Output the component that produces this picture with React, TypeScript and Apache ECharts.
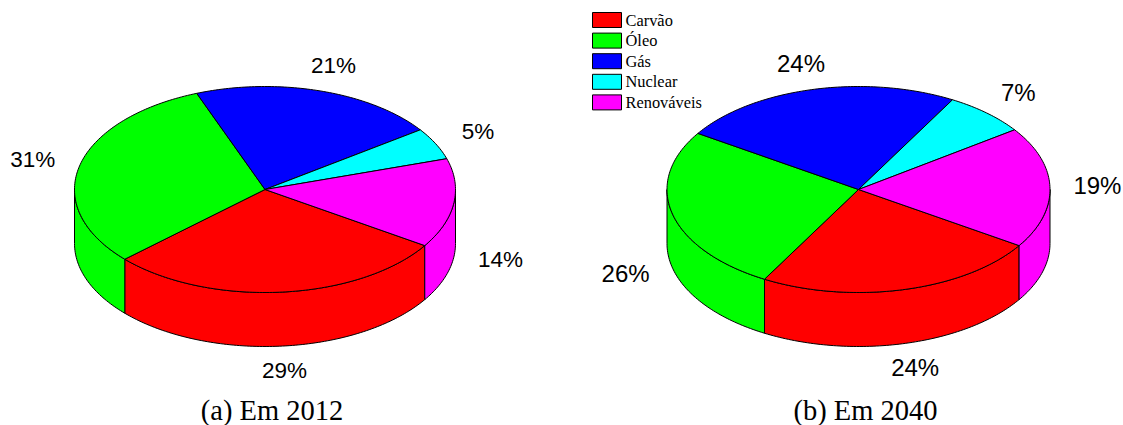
import React, { useEffect, useRef } from "react";
import * as echarts from "echarts";

const sources = ["Carvão", "Óleo", "Gás", "Nuclear", "Renováveis"];
const sourceColors = ["#ff0000", "#00ff00", "#0000ff", "#00ffff", "#ff00ff"];
const shares2012 = [29, 31, 21, 5, 14];
const shares2040 = [24, 26, 24, 7, 19];
const captions = ["(a) Em 2012", "(b) Em 2040"];

// Geometry of the two tilted discs, in pixels of the chart area.
const discs = [
  { cx: 265, cy: 189.5, rx: 190.5, ry: 103, depth: 54, labelSize: 22.5, values: shares2012 },
  { cx: 858.5, cy: 189.5, rx: 191.5, ry: 103, depth: 54, labelSize: 24, values: shares2040 },
];
const START_DEG = 33; // clockwise from east, where the first slice begins
const LABEL_RADIUS = 1.25;

const rad = (d: number) => (d * Math.PI) / 180;

function arcPoints(d: any, from: number, to: number, dy = 0) {
  const pts: number[][] = [];
  const steps = Math.max(2, Math.ceil(Math.abs(to - from)));
  for (let i = 0; i <= steps; i++) {
    const a = rad(from + ((to - from) * i) / steps);
    pts.push([d.cx + d.rx * Math.cos(a), d.cy + d.ry * Math.sin(a) + dy]);
  }
  return pts;
}

const edge = { stroke: "#000", lineWidth: 1, lineJoin: "round" };

function renderSlice(sourceIndex: number) {
  return (_params: any, api: any) => {
    const d = discs[api.value(0)];
    const before = d.values.slice(0, sourceIndex).reduce((s, v) => s + v, 0);
    const total = d.values.reduce((s, v) => s + v, 0);
    const from = START_DEG + (before / total) * 360;
    const to = from + (api.value(1) / total) * 360;
    const fill = sourceColors[sourceIndex];
    const children: any[] = [];

    // Outer wall: only the part of the rim that faces the viewer.
    for (const [lo, hi] of [[0, 180], [360, 540]]) {
      const a = Math.max(from, lo);
      const b = Math.min(to, hi);
      if (b > a) {
        const upper = arcPoints(d, a, b);
        const lower = arcPoints(d, b, a, d.depth);
        children.push({
          type: "polygon",
          shape: { points: upper.concat(lower) },
          style: { fill, ...edge },
        });
      }
    }

    // Top face.
    children.push({
      type: "polygon",
      shape: { points: [[d.cx, d.cy], ...arcPoints(d, from, to)] },
      style: { fill, ...edge },
    });

    // Percentage label on the slice's mid angle, pushed below the wall in the front half.
    const mid = rad((from + to) / 2);
    const sin = Math.sin(mid);
    children.push({
      type: "text",
      style: {
        text: `${api.value(1)}%`,
        x: d.cx + LABEL_RADIUS * d.rx * Math.cos(mid) - 0.4,
        y: d.cy + LABEL_RADIUS * d.ry * sin + (sin > 0 ? d.depth : 0) - 1,
        align: "center",
        verticalAlign: "middle",
        fill: "#000",
        font: `${d.labelSize}px "Liberation Sans", Arial, sans-serif`,
      },
    });
    return { type: "group", children };
  };
}

export default function App() {
  const ref = useRef<HTMLDivElement>(null);

  useEffect(() => {
    document.body.style.margin = "0";
    const chart = echarts.init(ref.current!, undefined, { renderer: "svg" });
    chart.setOption({
      animation: false,
      backgroundColor: "#fff",
      title: captions.map((text, i) => ({
        text,
        left: discs[i].cx + 2,
        top: 391,
        textAlign: "center",
        textStyle: {
          fontFamily: '"Liberation Serif", serif',
          fontWeight: "normal",
          fontSize: 28.5,
          color: "#000",
        },
      })),
      legend: {
        orient: "vertical",
        left: 587,
        top: 7,
        itemWidth: 29,
        itemHeight: 15,
        itemGap: 4.6,
        icon: "rect",
        data: sources,
        itemStyle: { borderColor: "#000", borderWidth: 1 },
        textStyle: {
          fontFamily: '"Liberation Serif", serif',
          fontSize: 16.4,
          color: "#000",
          padding: [0, 0, 0, -1],
        },
      },
      series: sources.map((name, i) => ({
        type: "custom",
        name,
        coordinateSystem: "none",
        silent: true,
        itemStyle: { color: sourceColors[i] },
        renderItem: renderSlice(i),
        data: discs.map((d, k) => [k, d.values[i]]),
      })),
    });
    return () => chart.dispose();
  }, []);

  return <div ref={ref} style={{ width: 1123, height: 425 }} />;
}
